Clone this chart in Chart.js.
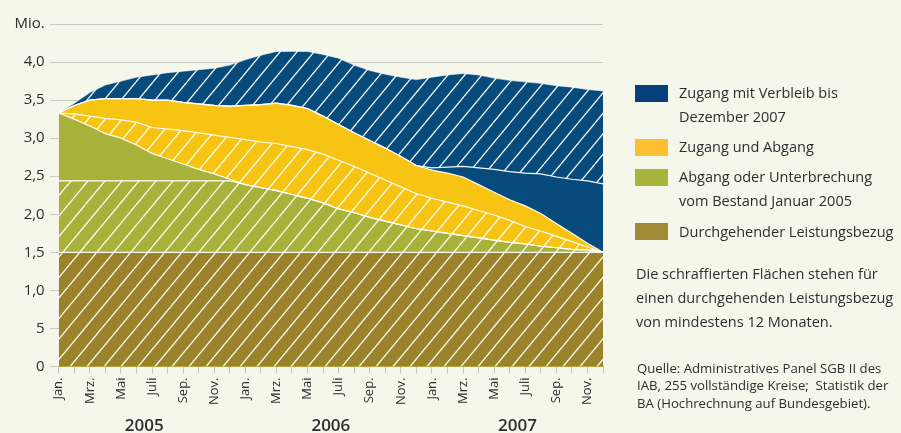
<!DOCTYPE html>
<html><head><meta charset="utf-8">
<script src="https://cdn.jsdelivr.net/npm/chart.js@4.4.1/dist/chart.umd.min.js"></script>
<style>
html,body{margin:0;padding:0;background:#f5f7eb;}
#wrap{position:relative;width:901px;height:433px;overflow:hidden;font-family:"Open Sans",sans-serif;color:#2e2e2e;}
#c{position:absolute;left:0;top:0;}
.box{position:absolute;left:635px;width:33px;height:17px;}
.txt{position:absolute;left:679px;font-size:14.5px;line-height:24px;white-space:nowrap;}
.note{position:absolute;left:636px;top:262px;font-size:14.5px;line-height:24px;white-space:nowrap;}
.src{position:absolute;left:637px;top:360px;font-size:13.2px;line-height:17.4px;white-space:nowrap;}
</style></head>
<body><div id="wrap">
<canvas id="c" width="901" height="433"></canvas>
<div class="box" style="top:85px;background:#053f7e"></div>
<div class="txt" style="top:80.5px">Zugang mit Verbleib bis<br>Dezember 2007</div>
<div class="box" style="top:139px;background:#fcbf2f"></div>
<div class="txt" style="top:135px">Zugang und Abgang</div>
<div class="box" style="top:169px;background:#a9b43c"></div>
<div class="txt" style="top:165.3px">Abgang oder Unterbrechung<br>vom Bestand Januar 2005</div>
<div class="box" style="top:223px;background:#a08a35"></div>
<div class="txt" style="top:219.7px">Durchgehender Leistungsbezug</div>
<div class="note">Die schraffierten Flächen stehen für<br>einen durchgehenden Leistungsbezug<br>von mindestens 12 Monaten.</div>
<div class="src">Quelle: Administratives Panel SGB II des<br>IAB, 255 vollständige Kreise;&nbsp; Statistik der<br>BA (Hochrechnung auf Bundesgebiet).</div>
</div>
<script>
// ---- data (levels in Mio., Jan 2005 .. Dez 2007) ----
const monthNames = ['Jan.','Feb.','Mrz.','Apr.','Mai','Juni','Juli','Aug.','Sep.','Okt.','Nov.','Dez.'];
const years = ['2005','2006','2007'];
const yTickLabels = ['0','5','1,0','1,5','2,0','2,5','3,0','3,5','4,0','Mio.'];

// Durchgehender Leistungsbezug (top of layer)
const durchgehend = [1.5,1.5,1.5,1.5,1.5,1.5,1.5,1.5,1.5,1.5,1.5,1.5,
                     1.5,1.5,1.5,1.5,1.5,1.5,1.5,1.5,1.5,1.5,1.5,1.5,
                     1.5,1.5,1.5,1.5,1.5,1.5,1.5,1.5,1.5,1.5,1.5,1.5];
// Abgang oder Unterbrechung: hatched part top, total top
const abgangSchraff = [2.44,2.44,2.44,2.44,2.44,2.44,2.44,2.44,2.44,2.44,2.44,2.44,
                       2.39,2.35,2.31,2.26,2.21,2.15,2.07,2.02,1.96,1.91,1.86,1.81,
                       1.78,1.75,1.72,1.69,1.66,1.63,1.61,1.58,1.56,1.54,1.53,1.50];
const abgangTop = [3.33,3.25,3.16,3.06,3.00,2.91,2.80,2.73,2.66,2.59,2.53,2.46,
                   2.39,2.35,2.31,2.26,2.21,2.15,2.07,2.02,1.96,1.91,1.86,1.81,
                   1.78,1.75,1.72,1.69,1.66,1.63,1.61,1.58,1.56,1.54,1.53,1.50];
// Zugang und Abgang: hatched part top, total top
const zuAbSchraff = [3.33,3.32,3.29,3.26,3.24,3.21,3.14,3.12,3.10,3.07,3.04,3.01,
                     2.98,2.95,2.93,2.89,2.85,2.79,2.71,2.63,2.54,2.45,2.36,2.27,
                     2.21,2.16,2.11,2.05,1.99,1.92,1.84,1.78,1.71,1.64,1.57,1.50];
const zuAbTop = [3.33,3.43,3.50,3.52,3.52,3.52,3.50,3.50,3.47,3.45,3.43,3.42,
                 3.43,3.44,3.46,3.43,3.39,3.29,3.18,3.07,2.97,2.87,2.76,2.64,
                 2.58,2.54,2.49,2.39,2.29,2.19,2.11,2.01,1.88,1.75,1.62,1.50];
// Zugang mit Verbleib: solid part top, total top
const verbleibSolid = [3.33,3.43,3.50,3.52,3.52,3.52,3.50,3.50,3.47,3.45,3.43,3.42,
                       3.43,3.44,3.46,3.43,3.39,3.29,3.18,3.07,2.97,2.87,2.76,2.64,
                       2.61,2.62,2.63,2.61,2.59,2.56,2.54,2.53,2.49,2.46,2.44,2.40];
const verbleibTop = [3.33,3.46,3.60,3.70,3.75,3.80,3.83,3.86,3.88,3.90,3.92,3.96,
                     4.03,4.09,4.14,4.14,4.14,4.10,4.05,3.96,3.89,3.84,3.80,3.77,
                     3.80,3.83,3.85,3.83,3.79,3.76,3.74,3.72,3.69,3.67,3.64,3.62];

const labels = [];
years.forEach(y => monthNames.forEach(m => labels.push(m)));

function hatch(color){
  const w=34,h=41;
  const c=document.createElement('canvas'); c.width=w; c.height=h;
  const g=c.getContext('2d');
  g.fillStyle=color; g.fillRect(0,0,w,h);
  g.strokeStyle='rgba(255,255,255,0.95)'; g.lineWidth=1.3;
  for (const off of [-34,-17,0,17,34]) { g.beginPath(); g.moveTo(off,h); g.lineTo(off+w,0); g.stroke(); }
  return g.createPattern(c,'repeat');
}
const BLUE='#064b7b', YEL='#f8c413', GRN='#a8b23a', BRN='#9a8329';
const line='rgba(255,255,255,0.95)';
function ds(data, bg, fill, bc){
  return {data, backgroundColor:bg, fill, borderColor:bc||line, borderWidth:1.2, pointRadius:0, tension:0};
}

const yearPlugin = {
  id:'years',
  afterDraw(chart){
    const x = chart.scales.x, ctx = chart.ctx;
    ctx.save();
    ctx.font = '600 17px "Open Sans"';
    ctx.fillStyle = '#2e2e2e';
    ctx.textAlign = 'center';
    ctx.textBaseline = 'alphabetic';
    years.forEach((y,k) => {
      const a = x.getPixelForValue(k*12), b = x.getPixelForValue(k*12+11);
      ctx.fillText(y, (a+b)/2, 431);
    });
    ctx.restore();
  }
};

new Chart(document.getElementById('c'), {
  type:'line',
  data:{labels, datasets:[
    ds(durchgehend, hatch(BRN), 'origin'),
    ds(abgangSchraff, hatch(GRN), '-1'),
    ds(abgangTop, GRN, '-1'),
    ds(zuAbSchraff, hatch(YEL), '-1'),
    ds(zuAbTop, YEL, '-1'),
    ds(verbleibSolid, BLUE, '-1'),
    ds(verbleibTop, hatch(BLUE), '-1', 'rgba(255,255,255,0.5)')
  ]},
  options:{
    responsive:false, animation:false,
    layout:{padding:{top:24, right:298, left:0, bottom:0}},
    plugins:{legend:{display:false}, tooltip:{enabled:false}, filler:{drawTime:'beforeDatasetsDraw'}},
    scales:{
      x:{
        z:1,
        afterFit(s){ s.height = 66.5; },
        grid:{drawOnChartArea:false, tickLength:7, color:'#c4c4bc'},
        border:{display:true, color:'#b8ae40', width:1},
        ticks:{autoSkip:false, maxRotation:90, minRotation:90, padding:4, color:'#2e2e2e',
          font:{family:'"Open Sans"', size:13},
          callback(v, i){ return i % 2 === 0 ? labels[i] : ''; }}
      },
      y:{
        min:0, max:4.5,
        afterFit(s){ s.width = 58.7; },
        grid:{color:'#cacac4', tickLength:9},
        border:{display:false},
        ticks:{stepSize:0.5, padding:5, color:'#2e2e2e', font:{family:'"Open Sans"', size:15},
          callback(v){ return yTickLabels[Math.round(v/0.5)]; }}
      }
    }
  },
  plugins:[yearPlugin]
});
</script>
</body></html>
